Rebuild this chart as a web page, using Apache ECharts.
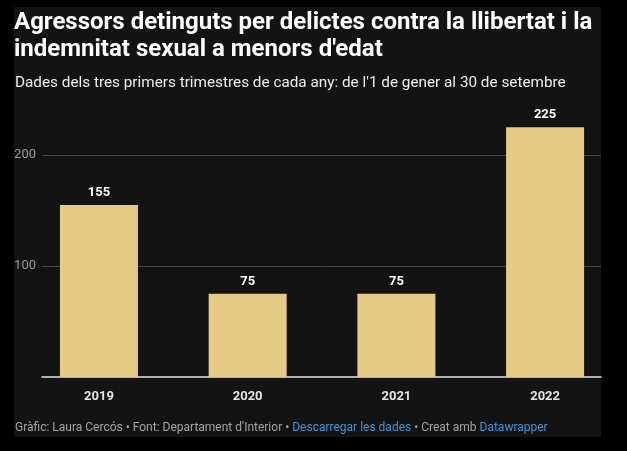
<!DOCTYPE html>
<html>
<head>
<meta charset="utf-8">
<script src="https://cdn.jsdelivr.net/npm/echarts@6/dist/echarts.min.js"></script>
<style>
html,body{margin:0;padding:0;background:#000;}
#chart{width:627px;height:451px;}
</style>
</head>
<body>
<div id="chart"></div>
<script>
const categories = ['2019', '2020', '2021', '2022'];
const values = [155, 75, 75, 225];
const yTickLabels = [100, 200];
const titleLines = ['Agressors detinguts per delictes contra la llibertat i la', 'indemnitat sexual a menors d\'edat'];
const subtitle = "Dades dels tres primers trimestres de cada any: de l'1 de gener al 30 de setembre";

const chart = echarts.init(document.getElementById('chart'));
const FONT = 'Roboto, "Noto Sans", sans-serif';

const option = {
  backgroundColor: '#000',
  animation: false,
  graphic: [{
    type: 'rect', z: -10, silent: true,
    shape: {x: 14, y: 7, width: 587, height: 430},
    style: {fill: '#131313'}
  }],
  title: [
    {
      text: titleLines.join('\n'),
      left: 14, top: 9, padding: 0,
      textStyle: {color: '#ffffff', fontSize: 24, fontWeight: 'bold', fontFamily: FONT, lineHeight: 27}
    },
    {
      text: subtitle,
      left: 15, top: 76, padding: 0,
      textStyle: {color: '#eeeeee', fontSize: 15.3, fontWeight: 'normal', fontFamily: FONT}
    },
    {
      text: '{g|Gràfic: Laura Cercós • Font: Departament d\'Interior • }{b|Descarregar les dades}{g| • Creat amb }{b|Datawrapper}',
      left: 15, top: 422, padding: 0,
      textStyle: {
        fontFamily: FONT, fontSize: 12, fontWeight: 'normal',
        rich: {
          g: {color: '#a3a3a3', fontSize: 12, fontWeight: 'normal', fontFamily: FONT},
          b: {color: '#3d97e0', fontSize: 12, fontWeight: 'normal', fontFamily: FONT}
        }
      }
    }
  ],
  grid: {left: 42, right: 26, top: 99.5, bottom: 74, containLabel: false},
  xAxis: {
    type: 'value',
    min: -0.383, max: 3.376,
    axisLine: {show: true, lineStyle: {color: '#e6e6e6', width: 1.5}},
    axisTick: {show: false},
    splitLine: {show: false},
    axisLabel: {
      customValues: [0, 1, 2, 3],
      formatter: v => categories[Math.round(v)] || '',
      color: '#e4e4e4', fontSize: 13, fontWeight: 'bold', fontFamily: FONT, margin: 13
    }
  },
  yAxis: {
    type: 'value',
    min: 0, max: 250, interval: 50,
    axisLine: {show: false},
    axisTick: {show: false},
    splitLine: {show: false},
    axisLabel: {
      formatter: v => yTickLabels.indexOf(v) >= 0 ? String(v) : '',
      color: '#9a9a9a', fontSize: 13, fontFamily: FONT, margin: 6
    }
  },
  series: [{
    type: 'bar',
    data: values.map((v, i) => [i, v]),
    barWidth: 78,
    itemStyle: {color: '#e6cb87'},
    label: {
      show: true, position: 'top', distance: 6,
      color: '#ffffff', fontSize: 13, fontWeight: 'bold', fontFamily: FONT,
      formatter: p => String(p.value[1])
    },
    markLine: {
      silent: true, symbol: 'none', z: 0,
      label: {show: false},
      lineStyle: {color: '#474747', width: 1, type: 'solid'},
      data: yTickLabels.map(v => ({yAxis: v}))
    }
  }]
};
chart.setOption(option);
</script>
</body>
</html>
